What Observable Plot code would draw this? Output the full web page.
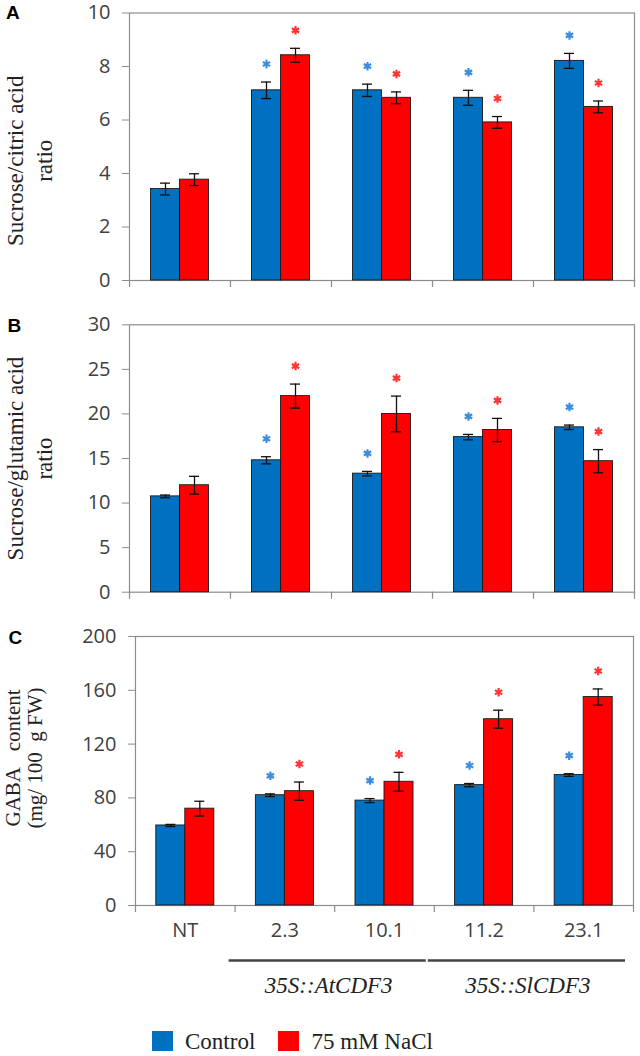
<!DOCTYPE html>
<html><head><meta charset="utf-8">
<script src="https://cdn.jsdelivr.net/npm/d3@7"></script>
<script src="https://cdn.jsdelivr.net/npm/@observablehq/plot@0.6"></script>
<style>
body{margin:0;background:#fff;}
#fig{position:relative;width:640px;height:1056px;overflow:hidden;background:#fff;}
.panel{position:absolute;left:0;}
.letter{position:absolute;font-family:"Liberation Sans",Arial,sans-serif;font-weight:bold;font-size:19px;line-height:19px;color:#000;}
.sw{position:absolute;width:21px;height:20px;box-sizing:border-box;}
.lt{position:absolute;font-family:"Liberation Serif",serif;font-size:23px;line-height:23px;color:#222;white-space:nowrap;}
</style></head><body><div id="fig"></div>
<script>
const categories = ["NT", "2.3", "10.1", "11.2", "23.1"];
const seriesNames = ["Control", "75 mM NaCl"];
const seriesColors = ["#0070C0", "#FF0000"];
const starColors = ["#3C8EDC", "#FF3535"];

const citricControl = [3.42, 7.11, 7.11, 6.83, 8.21];
const citricControlErr = [0.22, 0.31, 0.23, 0.28, 0.28];
const citricNaCl = [3.77, 8.42, 6.83, 5.91, 6.49];
const citricNaClErr = [0.22, 0.26, 0.22, 0.22, 0.22];

const glutControl = [10.75, 14.8, 13.3, 17.4, 18.5];
const glutControlErr = [0.15, 0.4, 0.25, 0.3, 0.25];
const glutNaCl = [12.0, 22.0, 20.0, 18.2, 14.7];
const glutNaClErr = [1.0, 1.35, 2.0, 1.3, 1.3];

const gabaControl = [59.5, 82, 78, 89.5, 97];
const gabaControlErr = [0.8, 1.0, 1.5, 1.2, 1.0];
const gabaNaCl = [72, 85, 92, 138.5, 155];
const gabaNaClErr = [5.5, 6.8, 7.0, 6.7, 6.0];

const sigControl = [false, true, true, true, true];
const sigNaCl = [false, true, true, true, true];

const groups = [
  {label: "35S::AtCDF3", from: "2.3", to: "10.1"},
  {label: "35S::SlCDF3", from: "11.2", to: "23.1"}
];

const fig = document.getElementById("fig");

function rowsOf(vals, errs, sig) {
  return categories.map((c, i) => ({cat: c, v: vals[i], e: errs[i], sig: sig[i]}));
}

function panel(o) {
  const W = 640;
  const bw = (W - o.ml - o.mr) / categories.length;
  const barW = 29;
  const ctrl = rowsOf(o.control, o.controlErr, sigControl);
  const nacl = rowsOf(o.nacl, o.naclErr, sigNaCl);
  const series = [
    {rows: ctrl, color: seriesColors[0], star: starColors[0], iL: bw / 2 - barW, iR: bw / 2, dx: -barW / 2},
    {rows: nacl, color: seriesColors[1], star: starColors[1], iL: bw / 2, iR: bw / 2 - barW, dx: barW / 2}
  ];
  const marks = [
    Plot.frame({stroke: "#8c8c8c", strokeWidth: 1.2}),
    Plot.axisY({ticks: o.ticks, tickSize: 7, tickPadding: 12, fontSize: 20, fill: "#404040", stroke: "#8c8c8c", label: null, tickFormat: d => String(d)}),
    Plot.ruleX(categories, {x: d => d, y1: 0, y2: 0, dx: -bw / 2, insetTop: 7, insetBottom: 0, stroke: "#8c8c8c", strokeWidth: 1.2}),
    Plot.ruleX(categories.slice(-1), {x: d => d, y1: 0, y2: 0, dx: bw / 2, insetTop: 7, insetBottom: 0, stroke: "#8c8c8c", strokeWidth: 1.2})
  ];
  for (const s of series) {
    marks.push(
      Plot.barY(s.rows, {x: "cat", y: "v", fill: s.color, stroke: "#1a1a1a", strokeWidth: 0.9, insetLeft: s.iL, insetRight: s.iR}),
      Plot.ruleX(s.rows, {x: "cat", y1: d => d.v - d.e, y2: d => d.v + d.e, dx: s.dx, stroke: "#111", strokeWidth: 1.3}),
      Plot.tickY(s.rows, {x: "cat", y: d => d.v + d.e, dx: s.dx, insetLeft: (bw - 10) / 2, insetRight: (bw - 10) / 2, stroke: "#111", strokeWidth: 1.3}),
      Plot.tickY(s.rows, {x: "cat", y: d => d.v - d.e, dx: s.dx, insetLeft: (bw - 10) / 2, insetRight: (bw - 10) / 2, stroke: "#111", strokeWidth: 1.3}),
      Plot.dot(s.rows.filter(d => d.sig), {x: "cat", y: d => d.v + d.e, dx: s.dx, dy: -18, symbol: "asterisk", r: 4, stroke: s.star, strokeWidth: 2.2})
    );
  }
  marks.push(Plot.text([o.label], {text: d => d, frameAnchor: "left", textAnchor: "middle", lineAnchor: "middle", rotate: -90, dx: o.ldx, dy: o.ldy, fontSize: o.lfs, lineHeight: o.llh, fontFamily: "Liberation Serif", fill: "#222"}));
  if (o.showX) {
    marks.push(
      Plot.axisX({tickSize: 0, tickPadding: 17, fontSize: 20, fill: "#404040", label: null}),
      Plot.ruleY(groups, {x1: "from", x2: "to", y: 0, dy: 55, insetLeft: -6, insetRight: 8, stroke: "#444", strokeWidth: 2.6}),
      Plot.text(groups, {x: "to", y: 0, dy: 80, dx: -bw / 2 - 6, text: "label", fontSize: 23, fontStyle: "italic", fontFamily: "Liberation Serif", fill: "#222"})
    );
  }
  const svg = Plot.plot({
    width: W, height: o.height,
    marginTop: o.mt, marginBottom: o.mb, marginLeft: o.ml, marginRight: o.mr,
    style: {fontFamily: "Open Sans", background: "transparent", overflow: "visible"},
    x: {type: "band", domain: categories, padding: 0, round: false, axis: o.showX ? undefined : null},
    y: {domain: o.domain, nice: false},
    marks
  });
  svg.classList.add("panel");
  svg.style.top = o.top + "px";
  fig.appendChild(svg);
  const L = document.createElement("div");
  L.className = "letter";
  L.textContent = o.letter;
  L.style.left = o.lx + "px";
  L.style.top = o.ly + "px";
  fig.appendChild(L);
}

panel({letter: "A", lx: 6, ly: 2.5, top: 0, height: 300, mt: 12.5, mb: 20, ml: 129, mr: 6,
  domain: [0, 10], ticks: [0, 2, 4, 6, 8, 10],
  label: "Sucrose/citric acid\nratio", ldx: -101.5, ldy: 14, lfs: 23, llh: 1.26,
  control: citricControl, controlErr: citricControlErr, nacl: citricNaCl, naclErr: citricNaClErr, showX: false});

panel({letter: "B", lx: 7.5, ly: 315.5, top: 300, height: 312, mt: 24.3, mb: 20.3, ml: 129, mr: 6,
  domain: [0, 30], ticks: [0, 5, 10, 15, 20, 25, 30],
  label: "Sucrose/glutamic acid\nratio", ldx: -101.5, ldy: 0, lfs: 23, llh: 1.26,
  control: glutControl, controlErr: glutControlErr, nacl: glutNaCl, naclErr: glutNaClErr, showX: false});

panel({letter: "C", lx: 8.5, ly: 627.5, top: 612, height: 398, mt: 24, mb: 105, ml: 135, mr: 7,
  domain: [0, 200], ticks: [0, 40, 80, 120, 160, 200],
  label: "GABA\u00a0\u00a0 content\n(mg/ 100\u00a0 g FW)", ldx: -112, ldy: -13, lfs: 21, llh: 1.05,
  control: gabaControl, controlErr: gabaControlErr, nacl: gabaNaCl, naclErr: gabaNaClErr, showX: true});

// legend
const legendPos = [{sw: 152, tx: 185}, {sw: 278, tx: 311.5}];
seriesNames.forEach((n, i) => {
  const s = document.createElement("div");
  s.className = "sw";
  s.style.left = legendPos[i].sw + "px";
  s.style.top = "1031px";
  s.style.background = seriesColors[i];
  fig.appendChild(s);
  const t = document.createElement("div");
  t.className = "lt";
  t.textContent = n;
  t.style.left = legendPos[i].tx + "px";
  t.style.top = "1030px";
  fig.appendChild(t);
});
</script></body></html>
